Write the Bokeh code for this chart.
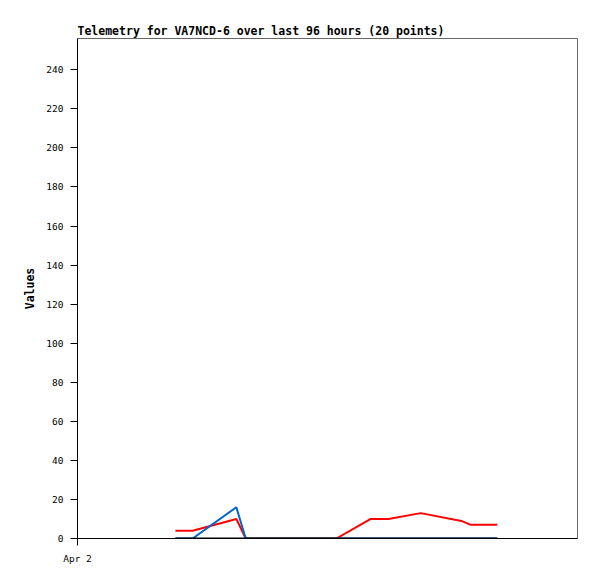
from bokeh.plotting import figure
from bokeh.models import Range1d, FixedTicker
from bokeh.embed import file_html
from bokeh.resources import INLINE

# hours since Apr 2 00:00
hours = [18.8, 22.1, 30.5, 32.3, 49.7, 56.3, 59.7, 65.9, 73.7, 75.5, 80.6]
red_vals = [4, 4, 10, 0, 0, 10, 10, 13, 9, 7, 7]
blue_vals = [0, 0, 16, 0, 0, 0, 0, 0, 0, 0, 0]
black_vals = [0, 0, 0, 0, 0, 0, 0, 0, 0, 0, 0]
y_ticks = [0, 20, 40, 60, 80, 100, 120, 140, 160, 180, 200, 220, 240]
x_ticks = [0]
x_tick_labels = {0: "Apr 2"}

MONO = "DejaVu Sans Mono"

p = figure(width=589, height=571, output_backend="svg", toolbar_location=None,
           x_range=Range1d(0, 96), y_range=Range1d(0, 256),
           min_border_left=77, min_border_right=12, min_border_top=38, min_border_bottom=33,
           title="Telemetry for VA7NCD-6 over last 96 hours (20 points)")

p.title.text_font = MONO
p.title.text_font_size = "11.5px"
p.title.text_font_style = "bold"
p.title.text_color = "black"
p.title.align = "left"
p.title.offset = 0
p.title.standoff = 2

p.xgrid.visible = False
p.ygrid.visible = False
p.outline_line_color = "#666666"
p.outline_line_width = 1
p.background_fill_color = "white"
p.border_fill_color = "white"

p.line(hours, red_vals, line_color="#ff0000", line_width=2)
p.line(hours, blue_vals, line_color="#0066cc", line_width=2)
p.line(hours, black_vals, line_color="#000000", line_width=2)

p.yaxis.ticker = FixedTicker(ticks=y_ticks)
p.yaxis.axis_label = "Values"
p.yaxis.axis_label_text_font = MONO
p.yaxis.axis_label_text_font_style = "bold"
p.yaxis.axis_label_text_font_size = "11.5px"
p.yaxis.axis_label_text_color = "black"
p.yaxis.axis_label_standoff = 6

p.xaxis.ticker = FixedTicker(ticks=x_ticks)
p.xaxis.major_label_overrides = x_tick_labels

for ax in (p.xaxis, p.yaxis):
    ax.axis_line_color = "black"
    ax.axis_line_width = 1
    ax.major_tick_line_color = "black"
    ax.major_tick_out = 7
    ax.major_tick_in = 0
    ax.minor_tick_out = 0
    ax.minor_tick_in = 0
    ax.major_label_text_font = MONO
    ax.major_label_text_font_size = "9.5px"
    ax.major_label_text_color = "black"
    ax.major_label_standoff = 7

open("out.html", "w").write(file_html(p, INLINE))
